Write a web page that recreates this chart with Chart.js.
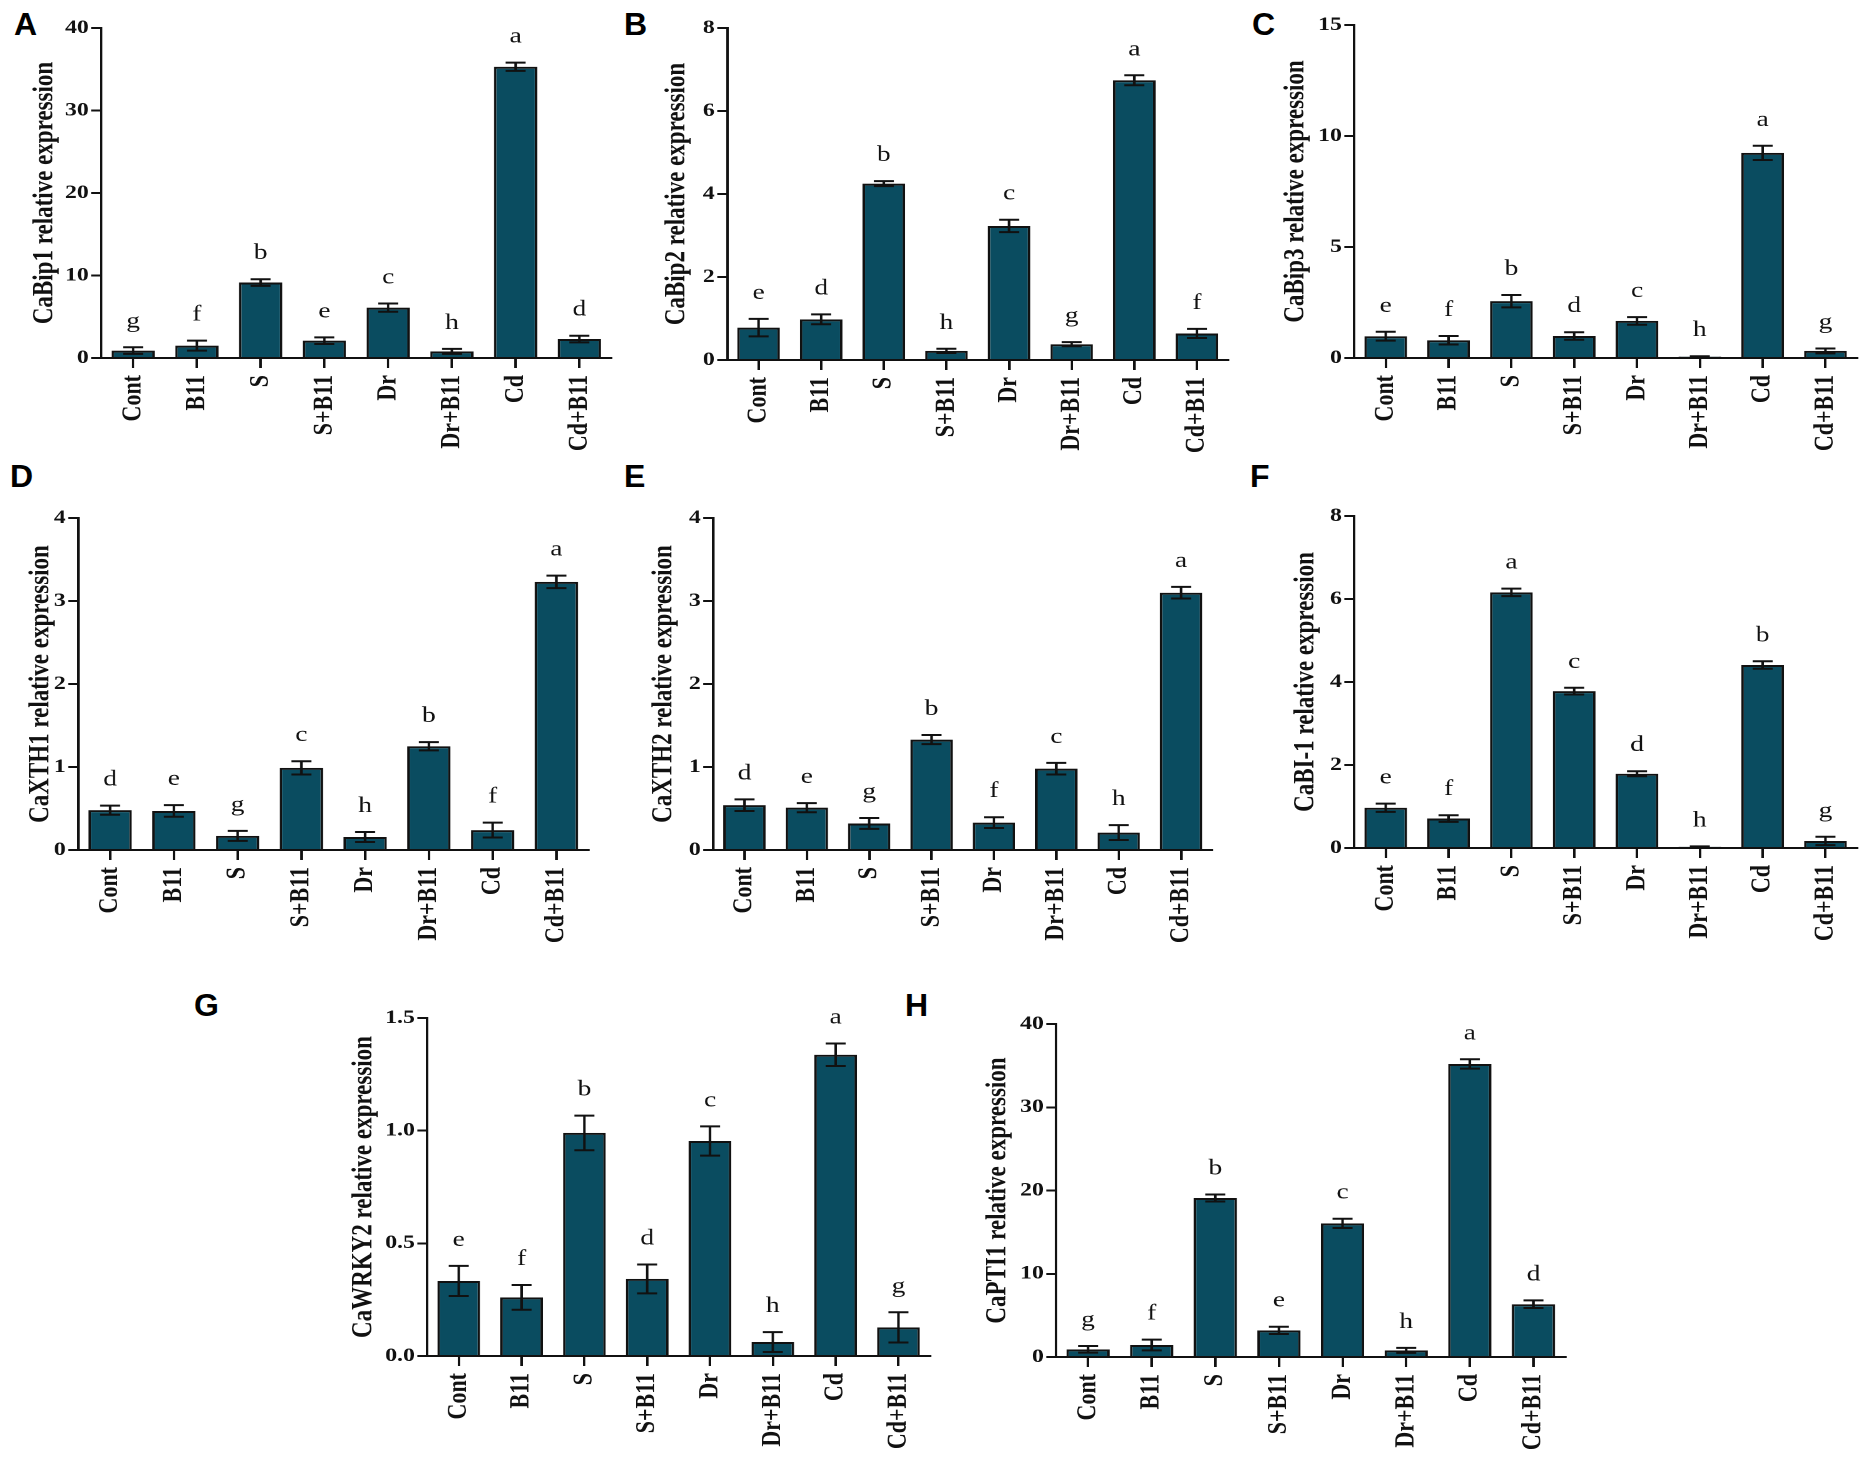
<!DOCTYPE html>
<html lang="en">
<head>
  <meta charset="utf-8">
  <title>Relative expression - CaBip / CaXTH / CaBI-1 / CaWRKY2 / CaPTI1</title>
  <script src="https://cdn.jsdelivr.net/npm/chart.js@4.4.1/dist/chart.umd.min.js"></script>
  <style>
    body { margin: 0; background: #fff; width: 1870px; height: 1462px; position: relative; overflow: hidden; }
    .panel { position: absolute; transform-origin: 0 0; }
    .tag { position: absolute; font: bold 32px "Liberation Sans", Arial, sans-serif; line-height: 1; color: #000; }
  </style>
</head>
<body>
<div class="tag" style="left:14px;top:8px">A</div>
<div class="tag" style="left:624px;top:8px">B</div>
<div class="tag" style="left:1252px;top:8px">C</div>
<div class="tag" style="left:10px;top:460px">D</div>
<div class="tag" style="left:624px;top:460px">E</div>
<div class="tag" style="left:1250px;top:460px">F</div>
<div class="tag" style="left:194px;top:989px">G</div>
<div class="tag" style="left:905px;top:989px">H</div>

<script>
  // treatments, same order in every panel
  const categories = ['Cont', 'B11', 'S', 'S+B11', 'Dr', 'Dr+B11', 'Cd', 'Cd+B11'];

  // A - CaBip1
  const bip1Mean = [0.9, 1.5, 9.15, 2.1, 6.1, 0.8, 35.3, 2.3];
  const bip1Err = [0.4, 0.6, 0.4, 0.4, 0.5, 0.3, 0.5, 0.4];
  const bip1Letters = ['g', 'f', 'b', 'e', 'c', 'h', 'a', 'd'];
  const bip1Ticks = [0, 10, 20, 30, 40];

  // B - CaBip2
  const bip2Mean = [0.78, 0.98, 4.25, 0.22, 3.23, 0.38, 6.74, 0.64];
  const bip2Err = [0.21, 0.12, 0.06, 0.05, 0.15, 0.05, 0.12, 0.11];
  const bip2Letters = ['e', 'd', 'b', 'h', 'c', 'g', 'a', 'f'];
  const bip2Ticks = [0, 2, 4, 6, 8];

  // C - CaBip3
  const bip3Mean = [0.98, 0.8, 2.56, 0.99, 1.67, 0.06, 9.24, 0.32];
  const bip3Err = [0.2, 0.19, 0.28, 0.17, 0.17, 0.02, 0.32, 0.11];
  const bip3Letters = ['e', 'f', 'b', 'd', 'c', 'h', 'a', 'g'];
  const bip3Ticks = [0, 5, 10, 15];

  // D - CaXTH1
  const xth1Mean = [0.48, 0.47, 0.17, 0.99, 0.157, 1.25, 0.24, 3.23];
  const xth1Err = [0.055, 0.07, 0.06, 0.08, 0.06, 0.05, 0.09, 0.075];
  const xth1Letters = ['d', 'e', 'g', 'c', 'h', 'b', 'f', 'a'];
  const xth1Ticks = [0, 1, 2, 3, 4];

  // E - CaXTH2
  const xth2Mean = [0.54, 0.51, 0.32, 1.33, 0.33, 0.98, 0.21, 3.1];
  const xth2Err = [0.07, 0.055, 0.065, 0.055, 0.065, 0.07, 0.09, 0.07];
  const xth2Letters = ['d', 'e', 'g', 'b', 'f', 'c', 'h', 'a'];
  const xth2Ticks = [0, 1, 2, 3, 4];

  // F - CaBI-1
  const bi1Mean = [0.97, 0.71, 6.16, 3.78, 1.79, 0.03, 4.41, 0.17];
  const bi1Err = [0.1, 0.08, 0.09, 0.08, 0.06, 0.01, 0.09, 0.1];
  const bi1Letters = ['e', 'f', 'a', 'c', 'd', 'h', 'b', 'g'];
  const bi1Ticks = [0, 2, 4, 6, 8];

  // G - CaWRKY2
  const wrky2Mean = [0.333, 0.26, 0.99, 0.342, 0.954, 0.062, 1.337, 0.127];
  const wrky2Err = [0.067, 0.055, 0.077, 0.064, 0.065, 0.044, 0.05, 0.067];
  const wrky2Letters = ['e', 'f', 'b', 'd', 'c', 'h', 'a', 'g'];
  const wrky2Ticks = [0, 0.5, 1.0, 1.5];

  // H - CaPTI1
  const pti1Mean = [0.92, 1.44, 19.1, 3.2, 16.05, 0.8, 35.2, 6.34];
  const pti1Err = [0.4, 0.64, 0.42, 0.44, 0.56, 0.3, 0.56, 0.46];
  const pti1Letters = ['g', 'f', 'b', 'e', 'c', 'h', 'a', 'd'];
  const pti1Ticks = [0, 10, 20, 30, 40];

  const SERIF = '"Liberation Serif", "Times New Roman", serif';
  const BAR_COLOR = '#0a4c60';
  const INK = '#111';
  // the original figure is stretched sideways; charts are drawn narrow and widened by CSS
  const STRETCH = 1.25;

  // draws mean +/- error whiskers and the significance letter over each bar
  const errorBars = {
    id: 'errorBars',
    afterDatasetsDraw(chart) {
      const ctx = chart.ctx;
      const y = chart.scales.y;
      const ds = chart.data.datasets[0];
      const meta = chart.getDatasetMeta(0);
      const cap = 8;
      ctx.save();
      ctx.strokeStyle = INK;
      ctx.lineWidth = 2;
      ctx.fillStyle = INK;
      ctx.font = '22px ' + SERIF;
      ctx.textAlign = 'center';
      ctx.textBaseline = 'alphabetic';
      meta.data.forEach((bar, i) => {
        const m = ds.data[i], e = ds.errors[i];
        const hi = y.getPixelForValue(m + e);
        const lo = y.getPixelForValue(Math.max(m - e, 0));
        ctx.beginPath();
        ctx.moveTo(bar.x, hi); ctx.lineTo(bar.x, lo);
        ctx.moveTo(bar.x - cap, hi); ctx.lineTo(bar.x + cap, hi);
        ctx.moveTo(bar.x - cap, lo); ctx.lineTo(bar.x + cap, lo);
        ctx.stroke();
        ctx.fillText(ds.letters[i], bar.x, hi - 20);
      });
      ctx.restore();
    }
  };

  // axisX/rightX/topY/zeroY = plot frame on the page, titleGap = axis to title centre
  const panels = [
    { title: 'CaBip1 relative expression', mean: bip1Mean, err: bip1Err, letters: bip1Letters, ticks: bip1Ticks,
      axisX: 101, rightX: 611, topY: 28, zeroY: 358, titleGap: 56 },
    { title: 'CaBip2 relative expression', mean: bip2Mean, err: bip2Err, letters: bip2Letters, ticks: bip2Ticks,
      axisX: 727, rightX: 1228, topY: 28, zeroY: 360, titleGap: 50 },
    { title: 'CaBip3 relative expression', mean: bip3Mean, err: bip3Err, letters: bip3Letters, ticks: bip3Ticks,
      axisX: 1354, rightX: 1856, topY: 25, zeroY: 358, titleGap: 58 },
    { title: 'CaXTH1 relative expression', mean: xth1Mean, err: xth1Err, letters: xth1Letters, ticks: xth1Ticks,
      axisX: 78, rightX: 588, topY: 518, zeroY: 850, titleGap: 37 },
    { title: 'CaXTH2 relative expression', mean: xth2Mean, err: xth2Err, letters: xth2Letters, ticks: xth2Ticks,
      axisX: 713, rightX: 1212, topY: 518, zeroY: 850, titleGap: 49 },
    { title: 'CaBI-1 relative expression', mean: bi1Mean, err: bi1Err, letters: bi1Letters, ticks: bi1Ticks,
      axisX: 1354, rightX: 1856, topY: 516, zeroY: 848, titleGap: 48 },
    { title: 'CaWRKY2 relative expression', mean: wrky2Mean, err: wrky2Err, letters: wrky2Letters, ticks: wrky2Ticks,
      axisX: 427, rightX: 929, topY: 1018, zeroY: 1356, titleGap: 63, decimals: 1 },
    { title: 'CaPTI1 relative expression', mean: pti1Mean, err: pti1Err, letters: pti1Letters, ticks: pti1Ticks,
      axisX: 1056, rightX: 1565, topY: 1024, zeroY: 1357, titleGap: 58 }
  ];

  panels.forEach(p => {
    const padTop = 16, padRight = 16, xAxisH = 115;
    const titleFont = 23;
    // page-space widths, converted to chart space by / STRETCH
    const yAxisW = p.titleGap + STRETCH * titleFont * 1.2 / 2;
    const left = p.axisX - yAxisW;
    const top = p.topY - padTop;
    const pageW = p.rightX + padRight - left;

    const box = document.createElement('div');
    box.className = 'panel';
    box.style.left = left + 'px';
    box.style.top = top + 'px';
    box.style.width = (pageW / STRETCH) + 'px';
    box.style.height = (p.zeroY - top + xAxisH) + 'px';
    box.style.transform = 'scaleX(' + STRETCH + ')';
    const canvas = document.createElement('canvas');
    box.appendChild(canvas);
    document.body.appendChild(box);

    new Chart(canvas, {
      type: 'bar',
      data: {
        labels: categories,
        datasets: [{
          data: p.mean,
          errors: p.err,
          letters: p.letters,
          backgroundColor: BAR_COLOR,
          borderColor: INK,
          borderWidth: 2,
          barPercentage: 0.68,
          categoryPercentage: 1
        }]
      },
      options: {
        responsive: true,
        maintainAspectRatio: false,
        animation: false,
        devicePixelRatio: 2,
        layout: { padding: { top: padTop, right: padRight / STRETCH, left: 0, bottom: 0 } },
        plugins: { legend: { display: false }, tooltip: { enabled: false } },
        scales: {
          x: {
            offset: true,
            grid: { display: true, offset: false, drawOnChartArea: false, drawTicks: true,
                    tickLength: 10, tickWidth: 2, tickColor: INK, color: INK, lineWidth: 2 },
            border: { display: true, color: INK, width: 2 },
            ticks: { color: INK, font: { family: SERIF, size: 22, weight: 'bold' },
                     minRotation: 90, maxRotation: 90, autoSkip: false, padding: 7 },
            afterFit: s => { s.height = xAxisH; }
          },
          y: {
            min: p.ticks[0],
            max: p.ticks[p.ticks.length - 1],
            afterBuildTicks: s => { s.ticks = p.ticks.map(v => ({ value: v })); },
            grid: { display: true, drawOnChartArea: false, drawTicks: true,
                    tickLength: 8, tickWidth: 2, tickColor: INK, color: INK, lineWidth: 2 },
            border: { display: true, color: INK, width: 2 },
            ticks: { color: INK, font: { family: SERIF, size: 19, weight: 'bold' }, padding: 2,
                     callback: v => p.decimals ? Number(v).toFixed(p.decimals) : v },
            title: { display: true, text: p.title, color: INK,
                     font: { family: SERIF, size: titleFont, weight: 'bold' }, padding: { top: 0, bottom: 0 } },
            afterFit: s => { s.width = yAxisW / STRETCH; }
          }
        }
      },
      plugins: [errorBars]
    });
  });
</script>
</body>
</html>
